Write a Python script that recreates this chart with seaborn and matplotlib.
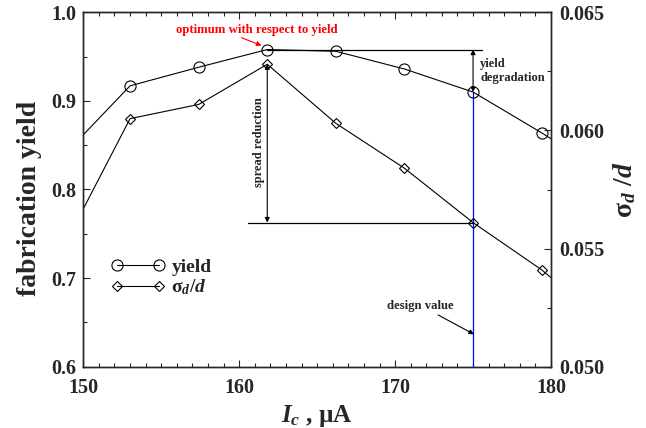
import matplotlib
matplotlib.use("Agg")
import matplotlib.pyplot as plt
import seaborn as sns
from matplotlib.ticker import MultipleLocator, FormatStrFormatter

# critical current (uA), fabrication yield and relative spread sigma_d/d
ic_ua = [148.6, 153.0, 157.4, 161.8, 166.2, 170.6, 175.0, 179.4, 183.8]
yield_vals = [0.836, 0.917, 0.938, 0.958, 0.956, 0.936, 0.910, 0.864, 0.815]
sigma_vals = [0.0549, 0.0605, 0.0611, 0.0628, 0.0603, 0.0584, 0.0561, 0.0541, 0.0517]

x_ticks = [150, 160, 170, 180]
y_ticks = [0.6, 0.7, 0.8, 0.9, 1.0]
y2_ticks = [0.050, 0.055, 0.060, 0.065]

OPT_IC = 161.8
DESIGN_IC = 175.0

sns.set_style("ticks")
plt.rcParams["font.family"] = ["Liberation Serif", "DejaVu Serif"]
plt.rcParams["font.weight"] = "bold"
plt.rcParams["mathtext.fontset"] = "custom"
plt.rcParams["mathtext.rm"] = "Liberation Serif:bold"
plt.rcParams["mathtext.it"] = "Liberation Serif:italic:bold"
plt.rcParams["mathtext.bf"] = "Liberation Serif:bold"

fig = plt.figure(figsize=(6.46, 4.28), dpi=100)
ax = fig.add_axes([83.3 / 646, 1 - 366.7 / 428, (551 - 83.3) / 646, (366.7 - 12.3) / 428])
ax2 = ax.twinx()

line_kw = dict(color="black", lw=0.8, markerfacecolor="none",
               markeredgecolor="black", markeredgewidth=0.8)
sns.lineplot(x=ic_ua, y=yield_vals, ax=ax, marker="o", markersize=8, **line_kw)
sns.lineplot(x=ic_ua, y=sigma_vals, ax=ax2, marker="D", markersize=5.5, **line_kw)

ax.set_xlim(150, 180)
ax.set_ylim(0.6, 1.0)
ax2.set_ylim(0.050, 0.065)

ax.set_xticks(x_ticks)
ax.set_yticks(y_ticks)
ax2.set_yticks(y2_ticks)
ax.xaxis.set_minor_locator(MultipleLocator(1))
ax.yaxis.set_minor_locator(MultipleLocator(0.05))
ax2.yaxis.set_minor_locator(MultipleLocator(0.0025))
ax.yaxis.set_major_formatter(FormatStrFormatter("%.1f"))
ax2.yaxis.set_major_formatter(FormatStrFormatter("%.3f"))

ax.tick_params(axis="both", which="both", direction="in", top=True, labelsize=14.5, width=0.8)
ax.tick_params(axis="y", which="both", right=False, pad=5)
ax.tick_params(axis="x", which="both", pad=8)
ax.tick_params(which="major", length=5)
ax.tick_params(which="minor", length=3)
ax2.tick_params(axis="y", which="both", direction="in", labelsize=14.5, width=0.8, pad=6)
ax2.tick_params(which="major", length=5)
ax2.tick_params(which="minor", length=3)
for a in (ax, ax2):
    for s in a.spines.values():
        s.set_visible(True)
        s.set_linewidth(1.0)

ax.set_xlabel(r"$I_c$ , µA", fontsize=18, fontweight="bold", labelpad=4)
ax.set_ylabel("fabrication yield", fontsize=20, fontweight="bold")
ax.yaxis.set_label_coords(-0.088, 0.476)
ax2.set_ylabel(r"$\mathrm{\sigma}_d\ /d$", fontsize=20, fontweight="bold", labelpad=5)

# legend
handles = [ax.lines[0], ax2.lines[0]]
fig.legend(handles, ["yield", r"$\mathrm{\sigma}_d/d$"], loc="upper left",
           bbox_to_anchor=(111 / 646, 1 - 258 / 428), frameon=False, fontsize=14,
           numpoints=2, handlelength=2.75, handletextpad=0.35, labelspacing=0.1,
           borderpad=0, borderaxespad=0)

y_opt = yield_vals[ic_ua.index(OPT_IC)]
y_des = yield_vals[ic_ua.index(DESIGN_IC)]
s_opt = sigma_vals[ic_ua.index(OPT_IC)]
s_des = sigma_vals[ic_ua.index(DESIGN_IC)]

arrow_kw = dict(lw=0.8, mutation_scale=7, shrinkA=0, shrinkB=0)

# optimum annotation
ax.text(161.15, 0.980, "optimum with respect to yield", color="red", fontsize=9.2,
        fontweight="bold", ha="center", va="center")
ax.annotate("", xy=(161.43, 0.9625), xytext=(160.15, 0.9713),
            arrowprops=dict(arrowstyle="-|>", color="red", **arrow_kw))

# yield degradation
ax.plot([OPT_IC, 175.6], [y_opt, y_opt], color="black", lw=0.9)
ax.annotate("", xy=(DESIGN_IC, y_opt), xytext=(DESIGN_IC, y_des),
            arrowprops=dict(arrowstyle="<|-|>", color="black", **arrow_kw))
ax.text(175.45, 0.948, "yield\ndegradation", fontsize=9, fontweight="bold",
        ha="left", va="top", linespacing=1.2)

# spread reduction
ax2.plot([160.54, DESIGN_IC], [s_des, s_des], color="black", lw=0.9)
ax2.annotate("", xy=(OPT_IC, s_opt), xytext=(OPT_IC, s_des),
             arrowprops=dict(arrowstyle="<|-|>", color="black", **arrow_kw))
ax.text(161.3, 0.853, "spread reduction", fontsize=9, fontweight="bold",
        rotation=90, ha="center", va="center")

# design value
ax.plot([DESIGN_IC, DESIGN_IC], [0.6, y_des], color="blue", lw=0.9, zorder=1)
ax.text(171.6, 0.6685, "design value", fontsize=9.2, fontweight="bold",
        ha="center", va="center")
ax.annotate("", xy=(175.06, 0.6366), xytext=(172.76, 0.6584),
            arrowprops=dict(arrowstyle="-|>", color="black", **arrow_kw))

fig.savefig("out.png", dpi=100)
